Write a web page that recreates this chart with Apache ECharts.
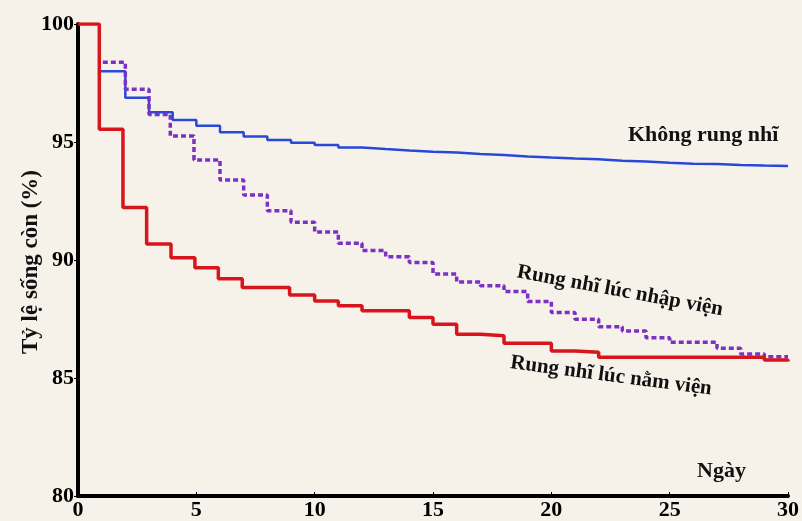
<!DOCTYPE html>
<html>
<head>
<meta charset="utf-8">
<script src="https://cdn.jsdelivr.net/npm/echarts@6/dist/echarts.min.js"></script>
<style>
html,body{margin:0;padding:0;background:#f6f2ea;}
#chart{width:802px;height:521px;}
</style>
</head>
<body>
<div id="chart"></div>
<script>
// Days and survival (%) for each group
var daysNoAF = [0.95,2,3,4,5,6,7,8,9,10,11,12,13,14,15,16,17,18,19,20,21,22,23,24,25,26,27,28,29,30];
var survNoAF = [98.0,96.88,96.26,95.93,95.69,95.41,95.23,95.08,94.97,94.87,94.77,94.70,94.64,94.59,94.55,94.49,94.45,94.39,94.34,94.30,94.27,94.21,94.17,94.12,94.08,94.07,94.03,94.00,93.98,93.98];

var daysAdmit = [1.05,2,3,3.9,4.9,6,7,8,9,10,11,12,13,14,15,16,17,18,19,20,21,22,23,24,25,27,28,29,30];
var survAdmit = [98.38,97.23,96.17,95.25,94.24,93.39,92.75,92.09,91.6,91.19,90.71,90.4,90.14,89.89,89.41,89.07,88.91,88.66,88.24,87.78,87.49,87.17,86.99,86.71,86.51,86.26,86.02,85.9,85.9];

var daysHosp = [0,0.9,1.9,2.9,3.93,4.94,5.93,6.94,8.94,10,11,12,14,15,16,17,18,20,21,22,29,30];
var survHosp = [100,95.54,92.22,90.68,90.1,89.67,89.21,88.83,88.52,88.26,88.06,87.85,87.56,87.28,86.85,86.79,86.47,86.14,86.09,85.88,85.76,85.7];

var xTicks = [0,5,10,15,20,25,30];
var yTicks = [80,85,90,95,100];

var labelNoAF = 'Không rung nhĩ';
var labelAdmit = 'Rung nhĩ lúc nhập viện';
var labelHosp = 'Rung nhĩ lúc nằm viện';
var yTitle = 'Tỷ lệ sống còn (%)';
var xTitle = 'Ngày';

function pairs(xs, ys){ return xs.map(function(x,i){ return [x, ys[i]]; }); }

var FONT = '"Liberation Serif", "DejaVu Serif", serif';
var chart = echarts.init(document.getElementById('chart'));
chart.setOption({
  backgroundColor: '#f6f2ea',
  animation: false,
  grid: {left: 78, right: 9, top: 24, bottom: 25},
  xAxis: {
    type: 'value', min: xTicks[0], max: xTicks[xTicks.length-1], interval: 5,
    axisLine: {lineStyle: {color: '#000', width: 4}},
    axisTick: {show: true, inside: true, length: 4, lineStyle: {color: '#000', width: 1}},
    axisLabel: {color: '#000', fontFamily: FONT, fontWeight: 'bold', fontSize: 22, margin: 3},
    splitLine: {show: false}
  },
  yAxis: {
    type: 'value', min: yTicks[0], max: yTicks[yTicks.length-1], interval: 5,
    axisLine: {show: true, lineStyle: {color: '#000', width: 4}},
    axisTick: {show: true, length: 4, lineStyle: {color: '#000', width: 1}},
    axisLabel: {color: '#000', fontFamily: FONT, fontWeight: 'bold', fontSize: 22, margin: 4},
    splitLine: {show: false}
  },
  series: [
    {type: 'line', name: labelNoAF, step: 'end', symbol: 'none', data: pairs(daysNoAF, survNoAF),
     lineStyle: {color: '#2748d8', width: 2.5}, z: 2},
    {type: 'line', name: labelAdmit, step: 'end', symbol: 'none', data: pairs(daysAdmit, survAdmit),
     lineStyle: {color: '#7b30c6', width: 3.5, type: [5, 3]}, z: 3},
    {type: 'line', name: labelHosp, step: 'end', symbol: 'none', data: pairs(daysHosp, survHosp),
     lineStyle: {color: '#d8141c', width: 3.5}, z: 4}
  ],
  graphic: [
    {type: 'text', x: 31, y: 262, rotation: Math.PI / 2, z: 10,
     style: {text: yTitle, fill: '#111', font: 'bold 23px ' + FONT, textAlign: 'center', textVerticalAlign: 'middle'}},
    {type: 'text', left: 628, top: 124, z: 10, style: {text: labelNoAF, fill: '#111', font: 'bold 22px ' + FONT}},
    {type: 'text', x: 620, y: 291, rotation: -10.5 * Math.PI / 180, z: 10,
     style: {text: labelAdmit, fill: '#111', font: 'bold 21px ' + FONT, textAlign: 'center', textVerticalAlign: 'middle'}},
    {type: 'text', x: 611, y: 376, rotation: -7.5 * Math.PI / 180, z: 10,
     style: {text: labelHosp, fill: '#111', font: 'bold 21px ' + FONT, textAlign: 'center', textVerticalAlign: 'middle'}},
    {type: 'text', left: 697, top: 460, z: 10, style: {text: xTitle, fill: '#111', font: 'bold 22px ' + FONT}}
  ]
});
</script>
</body>
</html>
